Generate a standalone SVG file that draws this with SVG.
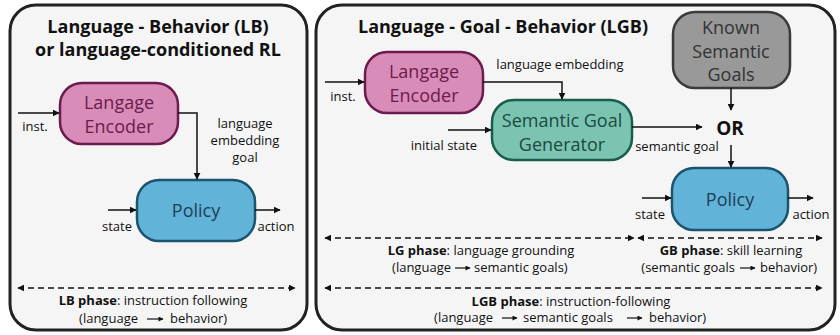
<svg xmlns="http://www.w3.org/2000/svg" width="840" height="335" viewBox="0 0 840 335">
<defs>
<style>
text{font-family:"Open Sans","Noto Sans","Liberation Sans",sans-serif;fill:#111;}
.title{font-size:18px;font-weight:bold;}
.lbl{font-size:13px;}
.node{font-size:18px;}
.b{font-weight:bold;}
.panel{fill:#f5f5f5;stroke:#222;stroke-width:3;}
.line{fill:none;stroke:#111;stroke-width:1.5;}
.dash{fill:none;stroke:#111;stroke-width:1.5;stroke-dasharray:6,4;}
.mini{fill:none;stroke:#111;stroke-width:1.2;}
</style>
<marker id="ah" viewBox="0 0 10 10" refX="9" refY="5" markerWidth="7" markerHeight="7" markerUnits="userSpaceOnUse" orient="auto-start-reverse">
<path d="M0,0 L10,5 L0,10 z" fill="#111"/>
</marker>
<marker id="sm" viewBox="0 0 10 10" refX="9" refY="5" markerWidth="6" markerHeight="5" markerUnits="userSpaceOnUse" orient="auto">
<path d="M0,0 L10,5 L0,10 z" fill="#111"/>
</marker>
</defs>
<g id="panel-lb">
<rect class="panel" x="10" y="5" width="297" height="325" rx="26"/>
<text class="title" x="158" y="33" text-anchor="middle">Language - Behavior (LB)</text>
<text class="title" x="158" y="56" text-anchor="middle">or language-conditioned RL</text>
</g>
<g id="panel-lgb">
<rect class="panel" x="316" y="5" width="519" height="325" rx="26"/>
<text class="title" x="503" y="33" text-anchor="middle">Language - Goal - Behavior (LGB)</text>
</g>
<g id="lb-encoder">
<rect x="60" y="83" width="118" height="61" rx="22" fill="#d98cb8" stroke="#6b1b4d" stroke-width="2.5"/>
<text class="node" x="119" y="109" text-anchor="middle" style="fill:#6b1b4d">Langage</text>
<text class="node" x="119" y="133" text-anchor="middle" style="fill:#6b1b4d">Encoder</text>
</g>
<g id="lb-policy">
<rect x="137" y="180" width="118" height="61" rx="22" fill="#62b3d8" stroke="#1c5470" stroke-width="2.5"/>
<text class="node" x="196" y="217" text-anchor="middle" style="fill:#1b3f55">Policy</text>
</g>
<g id="lgb-encoder">
<rect x="365" y="52" width="118" height="61" rx="22" fill="#d98cb8" stroke="#6b1b4d" stroke-width="2.5"/>
<text class="node" x="424" y="78" text-anchor="middle" style="fill:#6b1b4d">Langage</text>
<text class="node" x="424" y="102" text-anchor="middle" style="fill:#6b1b4d">Encoder</text>
</g>
<g id="lgb-sgg">
<rect x="492" y="100" width="140" height="60" rx="22" fill="#7cc4b2" stroke="#1a5c4c" stroke-width="2.5"/>
<text class="node" x="562" y="127" text-anchor="middle" style="fill:#1a4a40">Semantic Goal</text>
<text class="node" x="562" y="151" text-anchor="middle" style="fill:#1a4a40">Generator</text>
</g>
<g id="lgb-known">
<rect x="673" y="12" width="117" height="76" rx="22" fill="#999999" stroke="#3a3a3a" stroke-width="2.5"/>
<text class="node" x="731" y="34" text-anchor="middle" style="fill:#333">Known</text>
<text class="node" x="731" y="58" text-anchor="middle" style="fill:#333">Semantic</text>
<text class="node" x="731" y="81" text-anchor="middle" style="fill:#333">Goals</text>
</g>
<g id="lgb-or">
<text x="730" y="135" text-anchor="middle" style="font-size:19px;font-weight:bold">OR</text>
</g>
<g id="lgb-policy">
<rect x="672" y="168" width="116" height="62" rx="22" fill="#62b3d8" stroke="#1c5470" stroke-width="2.5"/>
<text class="node" x="730" y="206" text-anchor="middle" style="fill:#1b3f55">Policy</text>
</g>
<g id="connectors">
<path class="line" d="M18,113 H59" marker-end="url(#ah)"/>
<path class="line" d="M178,113 H197 V179" marker-end="url(#ah)"/>
<path class="line" d="M108,210 H136" marker-end="url(#ah)"/>
<path class="line" d="M255,210 H280" marker-end="url(#ah)"/>
<path class="dash" d="M18,288 H295" marker-start="url(#ah)" marker-end="url(#ah)"/>
<path class="line" d="M325,82 H364" marker-end="url(#ah)"/>
<path class="line" d="M483,82 H562 V99" marker-end="url(#ah)"/>
<path class="line" d="M448,130 H491" marker-end="url(#ah)"/>
<path class="line" d="M632,127 H702" marker-end="url(#ah)"/>
<path class="line" d="M731,88 V110" marker-end="url(#ah)"/>
<path class="line" d="M731,145 V167" marker-end="url(#ah)"/>
<path class="line" d="M642,198 H671" marker-end="url(#ah)"/>
<path class="line" d="M788,198 H813" marker-end="url(#ah)"/>
<path class="dash" d="M325,238 H634" marker-start="url(#ah)" marker-end="url(#ah)"/>
<path class="dash" d="M638,238 H822" marker-start="url(#ah)" marker-end="url(#ah)"/>
<path class="dash" d="M325,288 H822" marker-start="url(#ah)" marker-end="url(#ah)"/>
<path class="mini" d="M147,319 H163" marker-end="url(#sm)"/>
<path class="mini" d="M455,268 H470" marker-end="url(#sm)"/>
<path class="mini" d="M740,268 H755" marker-end="url(#sm)"/>
<path class="mini" d="M502,318 H517" marker-end="url(#sm)"/>
<path class="mini" d="M627,318 H642" marker-end="url(#sm)"/>
</g>
<g id="labels">
<text class="lbl" x="35" y="131" text-anchor="middle">inst.</text>
<text class="lbl" x="245" y="128" text-anchor="middle">language</text>
<text class="lbl" x="245" y="145" text-anchor="middle">embedding</text>
<text class="lbl" x="245" y="162" text-anchor="middle">goal</text>
<text class="lbl" x="117" y="231" text-anchor="middle">state</text>
<text class="lbl" x="276" y="231" text-anchor="middle">action</text>
<text class="lbl" x="153" y="305" text-anchor="middle"><tspan class="b">LB phase</tspan>: instruction following</text>
<text class="lbl" x="138" y="323" text-anchor="end">(language</text>
<text class="lbl" x="170" y="323">behavior)</text>
<text class="lbl" x="343" y="101" text-anchor="middle">inst.</text>
<text class="lbl" x="560" y="69" text-anchor="middle">language embedding</text>
<text class="lbl" x="444" y="150" text-anchor="middle">initial state</text>
<text class="lbl" x="677" y="151" text-anchor="middle">semantic goal</text>
<text class="lbl" x="650" y="219" text-anchor="middle">state</text>
<text class="lbl" x="811" y="219" text-anchor="middle">action</text>
<text class="lbl" x="481" y="255" text-anchor="middle"><tspan class="b">LG phase</tspan>: language grounding</text>
<text class="lbl" x="451" y="272" text-anchor="end">(language</text>
<text class="lbl" x="474" y="272">semantic goals)</text>
<text class="lbl" x="731" y="255" text-anchor="middle"><tspan class="b">GB phase</tspan>: skill learning</text>
<text class="lbl" x="735" y="272" text-anchor="end">(semantic goals</text>
<text class="lbl" x="760" y="272">behavior)</text>
<text class="lbl" x="571" y="306" text-anchor="middle"><tspan class="b">LGB phase</tspan>: instruction-following</text>
<text class="lbl" x="493" y="322" text-anchor="end">(language</text>
<text class="lbl" x="523" y="322">semantic goals</text>
<text class="lbl" x="649" y="322">behavior)</text>
</g>
</svg>
